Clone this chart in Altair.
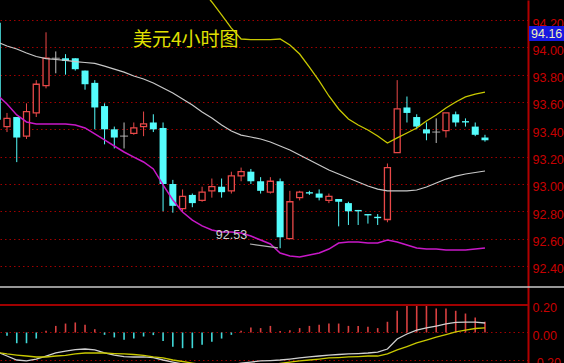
import altair as alt
import pandas as pd
import numpy as np

# ---------------- data ----------------
bar_index = list(range(-1, 50))

open_ = [94.18, 93.42, 93.49, 93.35, 93.52, 93.72, 93.92, 93.92, 93.92, 93.83,
         93.74, 93.57, 93.40, 93.35, 93.37, 93.42, 93.45, 93.41, 93.00, 92.82,
         92.92, 92.88, 92.95, 92.98, 92.95, 93.06, 93.09, 93.02, 92.94, 93.02,
         92.60, 92.90, 92.94, 92.93, 92.88, 92.89, 92.86, 92.81, 92.78, 92.76,
         92.74, 93.23, 93.56, 93.49, 93.40, 93.38, 93.39, 93.51, 93.46, 93.42,
         93.34]
high = [94.19, 93.52, 93.49, 93.59, 93.76, 94.11, 93.97, 93.95, 93.92, 93.83,
        93.76, 93.59, 93.42, 93.45, 93.45, 93.53, 93.51, 93.45, 93.03, 92.96,
        92.93, 92.98, 93.04, 93.04, 93.09, 93.12, 93.11, 93.05, 93.05, 93.04,
        92.95, 92.95, 92.95, 92.96, 92.93, 92.89, 92.87, 92.81, 92.78, 92.78,
        93.15, 93.76, 93.64, 93.51, 93.45, 93.48, 93.52, 93.53, 93.48, 93.45,
        93.36]
low = [93.41, 93.38, 93.16, 93.33, 93.49, 93.70, 93.81, 93.80, 93.83, 93.69,
       93.40, 93.29, 93.26, 93.26, 93.36, 93.35, 93.38, 92.80, 92.79, 92.80,
       92.83, 92.87, 92.90, 92.90, 92.93, 93.02, 93.00, 92.93, 92.93, 92.53,
       92.60, 92.88, 92.92, 92.88, 92.86, 92.69, 92.70, 92.70, 92.71, 92.70,
       92.72, 93.23, 93.45, 93.40, 93.32, 93.30, 93.34, 93.42, 93.42, 93.35,
       93.31]
close = [93.47, 93.48, 93.34, 93.53, 93.73, 93.92, 93.92, 93.90, 93.84, 93.73,
         93.56, 93.40, 93.34, 93.35, 93.41, 93.44, 93.40, 93.00, 92.84, 92.91,
         92.86, 92.94, 92.98, 92.94, 93.06, 93.09, 93.02, 92.95, 93.02, 92.61,
         92.87, 92.94, 92.93, 92.90, 92.91, 92.87, 92.80, 92.80, 92.77, 92.75,
         93.12, 93.55, 93.52, 93.42, 93.37, 93.38, 93.52, 93.45, 93.45, 93.36,
         93.32]

mid_band = [94.039, 94.010, 93.988, 93.959, 93.933, 93.918, 93.911, 93.904, 93.896, 93.889,
            93.882, 93.863, 93.841, 93.819, 93.790, 93.768, 93.739, 93.702, 93.666, 93.622,
            93.578, 93.527, 93.483, 93.432, 93.388, 93.358, 93.344, 93.329, 93.307, 93.278,
            93.249, 93.212, 93.176, 93.139, 93.102, 93.073, 93.044, 93.015, 92.985, 92.963,
            92.949, 92.949, 92.949, 92.956, 92.978, 93.007, 93.036, 93.058, 93.073, 93.084,
            93.095]
lower_band = [93.651, 93.585, 93.505, 93.454, 93.439, 93.439, 93.439, 93.439, 93.432, 93.410,
              93.366, 93.322, 93.278, 93.234, 93.197, 93.161, 93.110, 92.993, 92.883, 92.795,
              92.736, 92.693, 92.663, 92.649, 92.649, 92.641, 92.619, 92.590, 92.561, 92.495,
              92.473, 92.466, 92.480, 92.495, 92.524, 92.568, 92.575, 92.575, 92.568, 92.568,
              92.590, 92.575, 92.553, 92.532, 92.524, 92.524, 92.517, 92.517, 92.517, 92.524,
              92.532]
upper_band = [None] * 19 + [
              94.602, 94.507, 94.420, 94.332, 94.237, 94.141, 94.061, 94.057, 94.057, 94.057,
              94.061, 94.017, 93.951, 93.856, 93.754, 93.644, 93.549, 93.476, 93.432, 93.395,
              93.351, 93.300, 93.337, 93.373, 93.410, 93.461, 93.505, 93.556, 93.600, 93.637,
              93.658, 93.673]
upper_band = upper_band[1:] if len(upper_band) > 51 else upper_band

macd_dif = [-0.142, -0.171, -0.200, -0.207, -0.193, -0.171, -0.149, -0.135, -0.124, -0.120,
            -0.127, -0.149, -0.164, -0.175, -0.178, -0.178, -0.182, -0.200, -0.215, -0.229,
            -0.244, -0.251, -0.251, -0.244, -0.236, -0.222, -0.215, -0.207, -0.204, -0.200,
            -0.193, -0.185, -0.178, -0.171, -0.164, -0.160, -0.156, -0.153, -0.149, -0.142,
            -0.120, -0.047, -0.011, 0.018, 0.033, 0.047, 0.062, 0.073, 0.076, 0.076,
            0.069]
macd_dea = [-0.145, -0.156, -0.164, -0.171, -0.178, -0.178, -0.171, -0.167, -0.156, -0.149,
            -0.149, -0.149, -0.153, -0.156, -0.160, -0.167, -0.178, -0.185, -0.200, -0.211,
            -0.222, -0.233, -0.244, -0.251, -0.255, -0.255, -0.251, -0.244, -0.236, -0.225,
            -0.215, -0.207, -0.200, -0.193, -0.185, -0.182, -0.178, -0.175, -0.171, -0.171,
            -0.156, -0.127, -0.102, -0.076, -0.055, -0.033, -0.015, 0.004, 0.018, 0.029,
            0.033]
macd_hist = [-0.010, -0.024, -0.078, -0.078, -0.044, 0.012, 0.048, 0.065, 0.073, 0.056,
             0.024, -0.017, -0.036, -0.053, -0.044, -0.029, -0.019, -0.061, -0.104, -0.114,
             -0.114, -0.090, -0.068, -0.044, -0.017, 0.012, 0.036, 0.032, 0.048, 0.010,
             0.017, 0.032, 0.048, 0.056, 0.065, 0.065, 0.048, 0.048, 0.041, 0.032,
             0.078, 0.158, 0.200, 0.200, 0.200, 0.175, 0.175, 0.158, 0.138, 0.109,
             0.078]

price_ticks = [94.2, 94.0, 93.8, 93.6, 93.4, 93.2, 93.0, 92.8, 92.6, 92.4]
macd_ticks = [0.2, 0.0, -0.2]
title_text = "美元4小时图"
low_mark = {"i": [28], "p": [92.53], "t": ["92.53"]}
low_leader = {"xa": [24.91], "ya": [92.561], "xb": [27.78], "yb": [92.532]}
cursor_price = "94.16"

# ---------------- styling ----------------
RED = "#e84848"
CYAN = "#54fcfc"
GRAY = "#c0c0c0"
GRID = "#a00000"
LABEL = "#c80000"

df = pd.DataFrame(dict(i=bar_index, open=open_, high=high, low=low, close=close,
                       mid=mid_band, lower=lower_band, upper=upper_band,
                       dif=macd_dif, dea=macd_dea, hist=macd_hist))
df["dir"] = np.where(df.close > df.open, "up", np.where(df.close < df.open, "down", "flat"))

xscale = alt.Scale(domain=[-0.7176, 53.41], nice=False, zero=False, padding=0)
pscale = alt.Scale(domain=[91.69, 94.3464], nice=False, zero=False, padding=0)
mscale = alt.Scale(domain=[-0.22182, 2.41818], nice=False, zero=False, padding=0)


def X(f):
    return alt.X(f, type="quantitative", scale=xscale, axis=None)


def P(f, axis=None):
    return alt.Y(f, type="quantitative", scale=pscale, axis=axis)


def M(f, axis=None):
    return alt.Y(f, type="quantitative", scale=mscale, axis=axis)


price_axis = alt.Axis(orient="right", values=price_ticks, format=".2f", title=None,
                      labelColor=LABEL, labelFont="Liberation Sans", labelFontSize=12.5,
                      labelPadding=4, labelOffset=3, ticks=False, domain=True,
                      domainColor="#b00000", domainWidth=2, grid=True, gridColor=GRID,
                      gridDash=[1.5, 3], gridWidth=1, labelOverlap=False)
macd_axis = alt.Axis(orient="right", values=macd_ticks, format=".2f", title=None,
                     labelExpr="replace(datum.label, '\u2212', '-')",
                     labelColor=LABEL, labelFont="Liberation Sans", labelFontSize=12.5,
                     labelPadding=4, labelOffset=3, ticks=False, domain=False,
                     grid=True, gridColor=GRID, gridDash=[1.5, 3], gridWidth=1,
                     labelOverlap=False)

base = alt.Chart(df)

wicks = base.mark_rule(strokeWidth=1, clip=True).encode(
    x=X("i"), y=P("low", price_axis), y2="high",
    color=alt.Color("dir:N", scale=alt.Scale(domain=["up", "down", "flat"],
                                             range=[RED, CYAN, GRAY]), legend=None))
up_bodies = base.transform_filter("datum.dir == 'up'").mark_bar(
    size=6, fill="#000000", stroke=RED, strokeWidth=1.3, clip=True).encode(
    x=X("i"), y=P("open"), y2="close")
down_bodies = base.transform_filter("datum.dir == 'down'").mark_bar(
    size=7, color=CYAN, clip=True).encode(x=X("i"), y=P("open"), y2="close")
flat_bodies = base.transform_filter("datum.dir == 'flat'").mark_tick(
    color=GRAY, size=8, thickness=1.2, orient="horizontal", clip=True).encode(
    x=X("i"), y=P("close"))

mid_line = base.mark_line(color="#c8c8c8", strokeWidth=1.2, clip=True).encode(
    x=X("i"), y=P("mid"))
lower_line = base.mark_line(color="#c818c8", strokeWidth=1.5, clip=True).encode(
    x=X("i"), y=P("lower"))
upper_line = base.transform_filter("datum.upper != null").mark_line(
    color="#c8c800", strokeWidth=1.3, clip=True).encode(x=X("i"), y=P("upper"))

low_text = alt.Chart(pd.DataFrame(low_mark)).mark_text(
    align="right", baseline="middle", dx=-33, dy=-13, color="#d0d0d0",
    font="Liberation Sans", fontSize=12.5).encode(x=X("i"), y=P("p"), text="t:N")
low_line = alt.Chart(pd.DataFrame(low_leader)).mark_rule(
    color="#b0b0b0", strokeWidth=1.2).encode(x=X("xa"), y=P("ya"), x2="xb", y2="yb")

title = alt.Chart(pd.DataFrame({"t": [title_text]})).mark_text(
    align="left", baseline="middle", font="Noto Sans CJK SC", fontSize=19,
    color="#e0e000").encode(text="t:N", x=alt.value(133), y=alt.value(40))

box = alt.Chart(pd.DataFrame({"t": [cursor_price]})).mark_rect(color="#1818e0").encode(
    x=alt.value(529), x2=alt.value(564), y=alt.value(26), y2=alt.value(41))
box_text = alt.Chart(pd.DataFrame({"t": [cursor_price]})).mark_text(
    align="left", baseline="middle", font="Liberation Sans", fontSize=12.5,
    color="#f0f0b8").encode(text="t:N", x=alt.value(531), y=alt.value(34))

hist = base.mark_rule(strokeWidth=1.6, clip=True).encode(
    x=X("i"), y=M("hist", macd_axis), y2=alt.datum(0),
    color=alt.condition("datum.hist > 0", alt.value("#d84040"), alt.value("#40d8d8")))
dif_line = base.mark_line(color="#d0d0d0", strokeWidth=1.3, clip=True).encode(
    x=X("i"), y=M("dif"))
dea_line = base.mark_line(color="#c8c800", strokeWidth=1.3, clip=True).encode(
    x=X("i"), y=M("dea"))
panel_top = alt.Chart(pd.DataFrame({"v": [0.2]})).mark_rule(
    color="#a00000", strokeWidth=2).encode(y=M("v"))
separator = alt.Chart(pd.DataFrame({"v": [0.331]})).mark_rule(
    color="#c8c8c8", strokeWidth=1.5).encode(y=M("v"), x=alt.value(0), x2=alt.value(564))

chart = alt.layer(
    wicks, up_bodies, down_bodies, flat_bodies, mid_line, lower_line, upper_line,
    low_line, low_text, title, box, box_text,
    hist, dif_line, dea_line, panel_top, separator,
).resolve_scale(y="independent").resolve_axis(y="independent").properties(
    width=528, height=363,
    autosize=alt.AutoSizeParams(type="none"),
    padding={"left": 0, "top": 0, "right": 36, "bottom": 0},
    background="#000000",
).configure_view(stroke=None).configure_text(font="Liberation Sans")

chart.save("out.html", embed_options={"renderer": "svg", "actions": False})
